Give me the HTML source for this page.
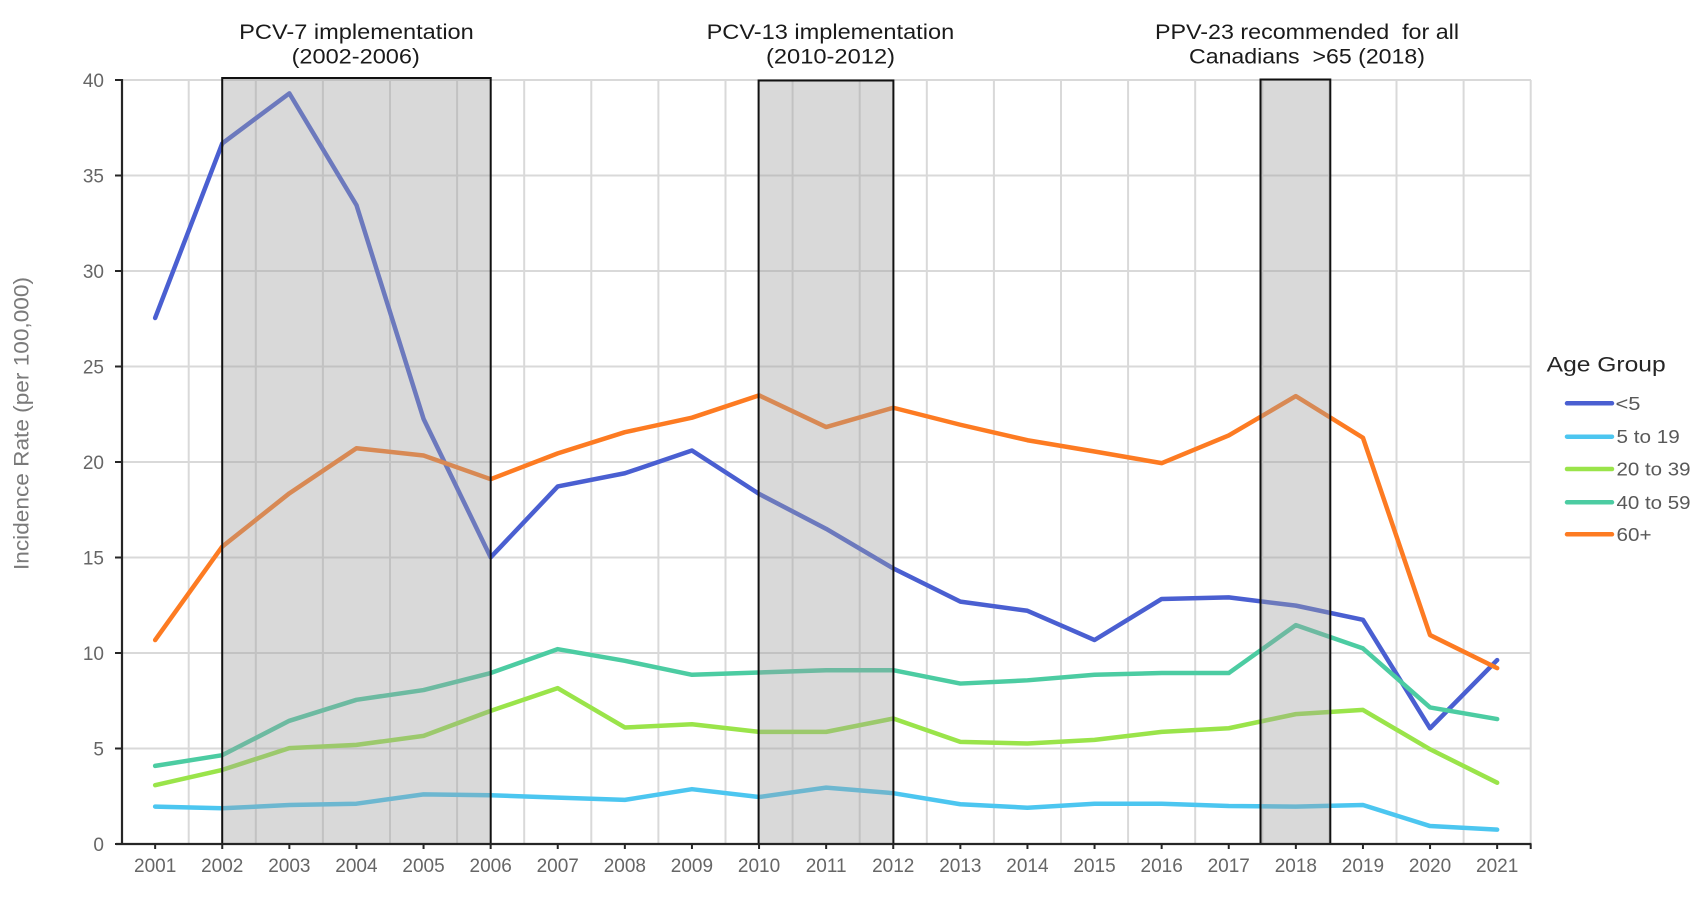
<!DOCTYPE html>
<html>
<head>
<meta charset="utf-8">
<style>
  html, body { margin: 0; padding: 0; background: #ffffff; }
  svg { display: block; }
  text { font-family: "Liberation Sans", Arial, sans-serif; }
</style>
</head>
<body>
<svg width="1702" height="902" viewBox="0 0 1702 902" xmlns="http://www.w3.org/2000/svg">
  <rect x="0" y="0" width="1702" height="902" fill="#ffffff"/>

  <!-- horizontal gridlines -->
  <g stroke="#d9d9d9" stroke-width="2">
    <line x1="122" y1="748.5" x2="1531" y2="748.5"/>
    <line x1="122" y1="653" x2="1531" y2="653"/>
    <line x1="122" y1="557.5" x2="1531" y2="557.5"/>
    <line x1="122" y1="462" x2="1531" y2="462"/>
    <line x1="122" y1="366.5" x2="1531" y2="366.5"/>
    <line x1="122" y1="271" x2="1531" y2="271"/>
    <line x1="122" y1="175.5" x2="1531" y2="175.5"/>
    <line x1="122" y1="80" x2="1531" y2="80"/>
  </g>
  <!-- vertical gridlines (category boundaries) -->
  <g stroke="#d9d9d9" stroke-width="2">
    <line x1="188.7" y1="80" x2="188.7" y2="844"/>
    <line x1="255.8" y1="80" x2="255.8" y2="844"/>
    <line x1="322.9" y1="80" x2="322.9" y2="844"/>
    <line x1="390.0" y1="80" x2="390.0" y2="844"/>
    <line x1="457.1" y1="80" x2="457.1" y2="844"/>
    <line x1="524.2" y1="80" x2="524.2" y2="844"/>
    <line x1="591.3" y1="80" x2="591.3" y2="844"/>
    <line x1="658.4" y1="80" x2="658.4" y2="844"/>
    <line x1="725.5" y1="80" x2="725.5" y2="844"/>
    <line x1="792.6" y1="80" x2="792.6" y2="844"/>
    <line x1="859.7" y1="80" x2="859.7" y2="844"/>
    <line x1="926.8" y1="80" x2="926.8" y2="844"/>
    <line x1="993.9" y1="80" x2="993.9" y2="844"/>
    <line x1="1061.0" y1="80" x2="1061.0" y2="844"/>
    <line x1="1128.1" y1="80" x2="1128.1" y2="844"/>
    <line x1="1195.2" y1="80" x2="1195.2" y2="844"/>
    <line x1="1262.3" y1="80" x2="1262.3" y2="844"/>
    <line x1="1329.4" y1="80" x2="1329.4" y2="844"/>
    <line x1="1396.5" y1="80" x2="1396.5" y2="844"/>
    <line x1="1463.6" y1="80" x2="1463.6" y2="844"/>
    <line x1="1530.7" y1="80" x2="1530.7" y2="844"/>
  </g>

  <!-- data series -->
  <g transform="translate(155.15,844) scale(67.1,-19.1)" fill="none" stroke-width="4.5" stroke-linejoin="round" stroke-linecap="round">
    <polyline vector-effect="non-scaling-stroke" stroke="#4a5fd1"
      points="0,27.54 1,36.68 2,39.3 3,33.45 4,22.26 5,15.01 6,18.72 7,19.41 8,20.6 9,18.33 10,16.5 11,14.43 12,12.69 13,12.21 14,10.68 15,12.83 16,12.91 17,12.48 18,11.74 19,6.06 20,9.63"/>
    <polyline vector-effect="non-scaling-stroke" stroke="#4cc6f0"
      points="0,1.96 1,1.87 2,2.04 3,2.11 4,2.6 5,2.55 6,2.43 7,2.31 8,2.87 9,2.46 10,2.95 11,2.66 12,2.08 13,1.9 14,2.11 15,2.11 16,1.99 17,1.96 18,2.04 19,0.94 20,0.75"/>
    <polyline vector-effect="non-scaling-stroke" stroke="#9ae44a"
      points="0,3.08 1,3.88 2,5.02 3,5.19 4,5.66 5,6.97 6,8.16 7,6.1 8,6.27 9,5.87 10,5.87 11,6.57 12,5.35 13,5.26 14,5.45 15,5.87 16,6.06 17,6.8 18,7.02 19,4.96 20,3.21"/>
    <polyline vector-effect="non-scaling-stroke" stroke="#4ccca2"
      points="0,4.09 1,4.65 2,6.45 3,7.55 4,8.06 5,8.95 6,10.2 7,9.59 8,8.86 9,8.98 10,9.1 11,9.1 12,8.4 13,8.57 14,8.86 15,8.95 16,8.95 17,11.46 18,10.24 19,7.15 20,6.54"/>
    <polyline vector-effect="non-scaling-stroke" stroke="#fd7b22"
      points="0,10.68 1,15.57 2,18.36 3,20.72 4,20.34 5,19.1 6,20.45 7,21.56 8,22.32 9,23.49 10,21.83 11,22.84 12,21.95 13,21.14 14,20.55 15,19.94 16,21.39 17,23.45 18,21.27 19,10.94 20,9.21"/>
  </g>

  <!-- grey overlay boxes -->
  <g fill="rgba(160,160,160,0.4)" stroke="#111111" stroke-width="2">
    <rect x="222.2" y="78" width="268.5" height="766"/>
    <rect x="758.6" y="80.5" width="134.8" height="763.5"/>
    <rect x="1260.5" y="79.5" width="69.8" height="764.5"/>
  </g>

  <!-- axes -->
  <g stroke="#262626" stroke-width="2.2" fill="none">
    <line x1="122" y1="79" x2="122" y2="845"/>
    <line x1="116" y1="844" x2="1531.5" y2="844"/>
  </g>
  <!-- y ticks -->
  <g stroke="#262626" stroke-width="2">
    <line x1="115" y1="844" x2="122" y2="844"/>
    <line x1="115" y1="748.5" x2="122" y2="748.5"/>
    <line x1="115" y1="653" x2="122" y2="653"/>
    <line x1="115" y1="557.5" x2="122" y2="557.5"/>
    <line x1="115" y1="462" x2="122" y2="462"/>
    <line x1="115" y1="366.5" x2="122" y2="366.5"/>
    <line x1="115" y1="271" x2="122" y2="271"/>
    <line x1="115" y1="175.5" x2="122" y2="175.5"/>
    <line x1="115" y1="80" x2="122" y2="80"/>
  </g>
  <!-- x ticks -->
  <g stroke="#262626" stroke-width="2">
    <line x1="155.15" y1="844" x2="155.15" y2="849"/>
    <line x1="222.25" y1="844" x2="222.25" y2="849"/>
    <line x1="289.35" y1="844" x2="289.35" y2="849"/>
    <line x1="356.45" y1="844" x2="356.45" y2="849"/>
    <line x1="423.55" y1="844" x2="423.55" y2="849"/>
    <line x1="490.65" y1="844" x2="490.65" y2="849"/>
    <line x1="557.75" y1="844" x2="557.75" y2="849"/>
    <line x1="624.85" y1="844" x2="624.85" y2="849"/>
    <line x1="691.95" y1="844" x2="691.95" y2="849"/>
    <line x1="759.05" y1="844" x2="759.05" y2="849"/>
    <line x1="826.15" y1="844" x2="826.15" y2="849"/>
    <line x1="893.25" y1="844" x2="893.25" y2="849"/>
    <line x1="960.35" y1="844" x2="960.35" y2="849"/>
    <line x1="1027.45" y1="844" x2="1027.45" y2="849"/>
    <line x1="1094.55" y1="844" x2="1094.55" y2="849"/>
    <line x1="1161.65" y1="844" x2="1161.65" y2="849"/>
    <line x1="1228.75" y1="844" x2="1228.75" y2="849"/>
    <line x1="1295.85" y1="844" x2="1295.85" y2="849"/>
    <line x1="1362.95" y1="844" x2="1362.95" y2="849"/>
    <line x1="1430.05" y1="844" x2="1430.05" y2="849"/>
    <line x1="1497.15" y1="844" x2="1497.15" y2="849"/>
    <line x1="1530.7" y1="844" x2="1530.7" y2="849"/>
  </g>

  <!-- y tick labels -->
  <g font-size="19" fill="#666666" text-anchor="end">
    <text x="104" y="851">0</text>
    <text x="104" y="755.5">5</text>
    <text x="104" y="660">10</text>
    <text x="104" y="564.5">15</text>
    <text x="104" y="469">20</text>
    <text x="104" y="373.5">25</text>
    <text x="104" y="278">30</text>
    <text x="104" y="182.5">35</text>
    <text x="104" y="87">40</text>
  </g>

  <!-- x tick labels -->
  <g font-size="19" fill="#666666" text-anchor="middle">
    <text x="155.15" y="872">2001</text>
    <text x="222.25" y="872">2002</text>
    <text x="289.35" y="872">2003</text>
    <text x="356.45" y="872">2004</text>
    <text x="423.55" y="872">2005</text>
    <text x="490.65" y="872">2006</text>
    <text x="557.75" y="872">2007</text>
    <text x="624.85" y="872">2008</text>
    <text x="691.95" y="872">2009</text>
    <text x="759.05" y="872">2010</text>
    <text x="826.15" y="872">2011</text>
    <text x="893.25" y="872">2012</text>
    <text x="960.35" y="872">2013</text>
    <text x="1027.45" y="872">2014</text>
    <text x="1094.55" y="872">2015</text>
    <text x="1161.65" y="872">2016</text>
    <text x="1228.75" y="872">2017</text>
    <text x="1295.85" y="872">2018</text>
    <text x="1362.95" y="872">2019</text>
    <text x="1430.05" y="872">2020</text>
    <text x="1497.15" y="872">2021</text>
  </g>

  <!-- y axis title -->
  <text transform="translate(28.5,423.5) rotate(-90)" font-size="21" fill="#7a7a7a" text-anchor="middle" textLength="293" lengthAdjust="spacingAndGlyphs">Incidence Rate (per 100,000)</text>

  <!-- annotations -->
  <g font-size="21" fill="#1a1a1a">
    <text x="239.2" y="39" textLength="234.6" lengthAdjust="spacingAndGlyphs">PCV-7 implementation</text>
    <text x="291.6" y="63.5" textLength="128.2" lengthAdjust="spacingAndGlyphs">(2002-2006)</text>
    <text x="706.6" y="39" textLength="247.6" lengthAdjust="spacingAndGlyphs">PCV-13 implementation</text>
    <text x="766" y="63.5" textLength="129" lengthAdjust="spacingAndGlyphs">(2010-2012)</text>
    <text x="1155" y="39" textLength="304" lengthAdjust="spacingAndGlyphs">PPV-23 recommended&#160; for all</text>
    <text x="1189" y="63.5" textLength="236" lengthAdjust="spacingAndGlyphs">Canadians&#160; &gt;65 (2018)</text>
  </g>

  <!-- legend -->
  <text x="1546.7" y="371.5" font-size="21" fill="#262626" textLength="119" lengthAdjust="spacingAndGlyphs">Age Group</text>
  <g stroke-width="4.5" stroke-linecap="round">
    <line x1="1567" y1="403.3" x2="1612" y2="403.3" stroke="#4a5fd1"/>
    <line x1="1567" y1="436.7" x2="1612" y2="436.7" stroke="#4cc6f0"/>
    <line x1="1567" y1="469" x2="1612" y2="469" stroke="#9ae44a"/>
    <line x1="1567" y1="502.3" x2="1612" y2="502.3" stroke="#4ccca2"/>
    <line x1="1567" y1="534.3" x2="1612" y2="534.3" stroke="#fd7b22"/>
  </g>
  <g font-size="18" fill="#595959">
    <text x="1615.5" y="409.8" textLength="25" lengthAdjust="spacingAndGlyphs">&lt;5</text>
    <text x="1616.5" y="443.2" textLength="63.3" lengthAdjust="spacingAndGlyphs">5 to 19</text>
    <text x="1616.5" y="475.5" textLength="74" lengthAdjust="spacingAndGlyphs">20 to 39</text>
    <text x="1616.5" y="508.8" textLength="74" lengthAdjust="spacingAndGlyphs">40 to 59</text>
    <text x="1616.5" y="540.8" textLength="35" lengthAdjust="spacingAndGlyphs">60+</text>
  </g>
</svg>
</body>
</html>
